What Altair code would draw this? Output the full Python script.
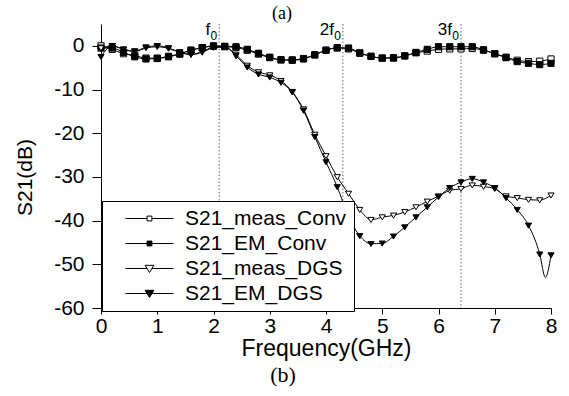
import altair as alt
import pandas as pd

# ---------------- data ----------------
freq = [0.0, 0.2, 0.4, 0.6, 0.8, 1.0, 1.2, 1.4, 1.6, 1.8,
        2.0, 2.2, 2.4, 2.6, 2.8, 3.0, 3.2, 3.4, 3.6, 3.8,
        4.0, 4.2, 4.4, 4.6, 4.8, 5.0, 5.2, 5.4, 5.6, 5.8,
        6.0, 6.2, 6.4, 6.6, 6.8, 7.0, 7.2, 7.4, 7.6, 7.8, 8.0]

meas_conv = [0.0, -0.8, -1.8, -2.2, -2.8, -2.8, -2.4, -1.8, -1.0, -0.4,
             -0.1, -0.2, -0.4, -1.0, -1.9, -2.7, -3.2, -3.2, -2.9, -2.0,
             -1.0, -0.5, -0.7, -1.7, -2.4, -2.8, -2.7, -2.3, -1.6, -1.2,
             -0.8, -0.7, -0.7, -0.6, -1.0, -1.8, -2.6, -3.3, -3.6, -3.5, -3.0]

em_conv = [-0.5, -0.5, -1.5, -2.5, -3.0, -2.9, -2.5, -1.9, -1.0, -0.4,
           0.0, -0.1, -0.2, -0.8, -1.7, -2.6, -3.2, -3.3, -3.0, -2.1,
           -1.0, -0.4, -0.5, -1.6, -2.4, -2.8, -2.8, -2.3, -1.5, -0.8,
           -0.2, -0.2, -0.2, -0.2, -0.9, -1.8, -2.7, -3.6, -4.0, -4.3, -4.0]

meas_dgs = [-0.5, 0.0, -0.8, -1.3, -0.5, -0.2, -0.6, -1.5, -2.0, -1.5,
            -0.4, -0.3, -2.0, -4.5, -6.0, -6.7, -8.0, -10.5, -14.5, -20.3,
            -25.2, -30.0, -33.8, -37.5, -39.8, -39.2, -38.8, -38.0, -36.9, -35.6,
            -34.4, -33.1, -32.7, -31.9, -32.2, -32.7, -34.4, -34.8, -35.2, -35.3, -34.2]

em_dgs = [-2.5, 0.0, -0.8, -1.2, -0.3, 0.0, -0.5, -1.4, -2.0, -1.3,
          -0.3, -0.2, -2.3, -4.9, -6.5, -7.2, -8.4, -10.6, -14.8, -20.8,
          -26.6, -32.3, -39.0, -43.5, -45.3, -45.2, -43.6, -41.5, -39.2, -36.9,
          -34.6, -32.5, -31.2, -30.4, -31.2, -32.5, -34.8, -37.5, -41.1, -47.7, -47.9]

# extra (line-only) points of the EM DGS curve (sharp dip near 8 GHz)
extra_freq = [7.9]
extra_em_dgs = [-53.0]

series_names = ["S21_meas_Conv", "S21_EM_Conv", "S21_meas_DGS", "S21_EM_DGS"]
series_fill = ["white", "black", "white", "black"]

harm_freq = [2.1, 4.3, 6.4]
harm_text = ["f", "2f", "3f"]
harm_sub = ["0", "0", "0"]

x_ticks = [0, 0.5, 1, 1.5, 2, 2.5, 3, 3.5, 4, 4.5, 5, 5.5, 6, 6.5, 7, 7.5, 8]
y_ticks = [-60, -55, -50, -45, -40, -35, -30, -25, -20, -15, -10, -5, 0, 5]

# ---------------- tables ----------------
rows = []
for name, vals in zip(series_names, [meas_conv, em_conv, meas_dgs, em_dgs]):
    for f, v in zip(freq, vals):
        rows.append({"f": f, "v": v, "series": name, "marker": True})
for f, v in zip(extra_freq, extra_em_dgs):
    rows.append({"f": f, "v": v, "series": "S21_EM_DGS", "marker": False})
df = pd.DataFrame(rows)

harm = pd.DataFrame({"f": harm_freq, "t": harm_text, "s": harm_sub})

FONT = "Liberation Sans"

xs = alt.Scale(domain=[0, 8], nice=False, zero=False)
ys = alt.Scale(domain=[-60, 5], nice=False, zero=False)

x_enc = alt.X(
    "f:Q", scale=xs,
    axis=alt.Axis(
        values=x_ticks,
        tickSize={"condition": {"test": "datum.value % 1 === 0", "value": 6}, "value": 3},
        labelExpr="datum.value % 1 === 0 ? '' + datum.value : ''",
        labelFont=FONT, labelFontSize=21, labelColor="black", labelPadding=1,
        labelFlush=False, labelOverlap=False,
        title="Frequency(GHz)", titleFont=FONT, titleFontSize=23,
        titleFontWeight="normal", titleColor="black",
        titleY=47, titleBaseline="alphabetic",
        domainColor="black", tickColor="black", grid=False,
    ),
)
y_enc = alt.Y(
    "v:Q", scale=ys,
    axis=alt.Axis(
        values=y_ticks,
        tickSize={"condition": {"test": "datum.value % 10 === 0", "value": 9}, "value": 5},
        labelExpr="datum.value % 10 === 0 ? '' + datum.value : ''",
        labelFont=FONT, labelFontSize=21, labelColor="black", labelPadding=8,
        labelFlush=False, labelOverlap=False,
        title="S21(dB)", titleFont=FONT, titleFontSize=21,
        titleFontWeight="normal", titleColor="black",
        titleX=-76, titleY=153, titleBaseline="middle", titleAlign="center",
        domainColor="black", tickColor="black", grid=False,
    ),
)

lines = alt.Chart(df).mark_line(
    color="black", strokeWidth=1, interpolate="monotone"
).encode(x=x_enc, y=y_enc, detail="series:N")

tri_path = "M-1,-0.75H1L0,0.9Z"
points = alt.Chart(df).transform_filter("datum.marker").mark_point(
    filled=True, stroke="black", strokeWidth=1, opacity=1
).encode(
    x=alt.X("f:Q", scale=xs),
    y=alt.Y("v:Q", scale=ys),
    shape=alt.Shape("series:N", scale=alt.Scale(domain=series_names,
                    range=["square", "square", tri_path, tri_path]), legend=None),
    fill=alt.Fill("series:N", scale=alt.Scale(domain=series_names, range=series_fill),
                  legend=None),
    size=alt.SizeValue(38),
)

sq_leg = "M-3,0H-0.3M0.3,0H3M-0.3,-0.3H0.3V0.3H-0.3Z"
tri_leg = "M-3,0H-0.31M0.31,0H3M-0.55,-0.4H0.55L0,0.5Z"
leg = alt.Legend(
    title=None, orient="none", legendX=1, legendY=177,
    strokeColor="black", fillColor="white", padding=7, cornerRadius=0,
    symbolSize=256, symbolStrokeColor="black", symbolStrokeWidth=1,
    symbolOpacity=1, symbolOffset=30, labelOffset=25, rowPadding=3,
    labelFont=FONT, labelFontSize=21, labelColor="black", labelLimit=400,
    labelExpr="datum.label + '\u00a0\u00a0'",
)
legend_layer = alt.Chart(df).transform_filter("datum.f < -100").mark_point(
    filled=True, stroke="black", strokeWidth=1, opacity=1
).encode(
    x=alt.X("f:Q", scale=xs),
    y=alt.Y("v:Q", scale=ys),
    shape=alt.Shape("series:N", scale=alt.Scale(domain=series_names,
                    range=[sq_leg, sq_leg, tri_leg, tri_leg]), legend=leg),
    fill=alt.Fill("series:N", scale=alt.Scale(domain=series_names, range=series_fill),
                  legend=leg),
    stroke=alt.Stroke("series:N", scale=alt.Scale(domain=series_names,
                      range=["black", "black", "black", "black"]), legend=leg),
)

rules = alt.Chart(harm).mark_rule(
    color="#666666", strokeWidth=1, strokeDash=[1.5, 2]
).encode(
    x=alt.X("f:Q", scale=xs),
    y=alt.datum(5, scale=ys),
    y2=alt.datum(-60),
)

harm_main = alt.Chart(harm).mark_text(
    font=FONT, fontSize=17, align="right", baseline="alphabetic", dx=-9, color="black"
).encode(x=alt.X("f:Q", scale=xs), y=alt.value(11), text="t:N")

harm_subs = alt.Chart(harm).mark_text(
    font=FONT, fontSize=12, align="right", baseline="alphabetic", dx=-2, color="black"
).encode(x=alt.X("f:Q", scale=xs), y=alt.value(16), text="s:N")

cap_a = alt.Chart(harm).transform_filter("datum.t == 'f'").mark_text(
    text="(a)", font="Liberation Serif", fontSize=18, align="center",
    baseline="alphabetic", color="black"
).encode(x=alt.value(181), y=alt.value(-5))

cap_b = alt.Chart(harm).transform_filter("datum.t == 'f'").mark_text(
    text="(b)", font="Liberation Serif", fontSize=22, align="center",
    baseline="alphabetic", color="black"
).encode(x=alt.value(182), y=alt.value(358))

chart = alt.layer(
    rules, lines, points, legend_layer, harm_main, harm_subs, cap_a, cap_b
).resolve_scale(
    shape="independent", fill="independent", stroke="independent"
).properties(
    width=450, height=284,
    autosize=alt.AutoSizeParams(type="none"),
    padding={"left": 101, "top": 24, "right": 18, "bottom": 88},
    background="white",
).configure_view(strokeWidth=0)

chart.save("out.html", embed_options={"renderer": "svg", "actions": False})
